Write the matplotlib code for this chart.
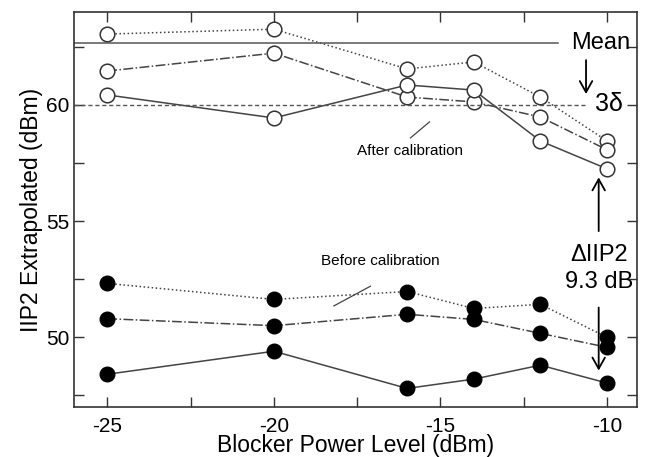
import matplotlib
matplotlib.use("Agg")
import matplotlib.pyplot as plt

plt.rcParams['font.family'] = ['Liberation Sans', 'DejaVu Sans']
plt.rcParams['axes.unicode_minus'] = False

# blocker power levels (dBm)
power = [-25, -20, -16, -14, -12, -10]

# after calibration (open circles)
after_dotted = [63.05, 63.26, 61.55, 61.85, 60.34, 58.45]
after_dashdot = [61.46, 62.23, 60.34, 60.13, 59.48, 58.07]
after_solid = [60.43, 59.44, 60.86, 60.64, 58.45, 57.25]

# before calibration (filled circles)
before_dotted = [52.32, 51.63, 51.97, 51.24, 51.42, 50.0]
before_dashdot = [50.8, 50.5, 50.99, 50.77, 50.17, 49.57]
before_solid = [48.41, 49.4, 47.8, 48.2, 48.8, 48.03]

mean_level = 62.66
sigma_level = 60.0

col = '#444444'
fig = plt.figure(figsize=(6.47, 4.57), dpi=100)
ax = fig.add_axes([74 / 647, 50 / 457, 563 / 647, 395 / 457])

styles = [(after_dotted, ':'), (after_dashdot, '-.'), (after_solid, '-')]
for ys, ls in styles:
    ax.plot(power, ys, linestyle=ls, color=col, lw=1.1, marker='o', ms=10.5,
            mfc='white', mec='#333333', mew=1.1)

styles = [(before_dotted, ':'), (before_dashdot, '-.'), (before_solid, '-')]
for ys, ls in styles:
    ax.plot(power, ys, linestyle=ls, color=col, lw=1.1, marker='o', ms=10.5,
            mfc='black', mec='black')

# mean and 3 sigma reference lines
ax.plot([-26, -11.47], [mean_level, mean_level], color='#555555', lw=1.1)
ax.plot([-26, -10.66], [sigma_level, sigma_level], color='#555555', lw=1, ls=(0, (3, 2)))

arrow = dict(arrowstyle='->,head_width=0.45,head_length=0.8', color='black', lw=1.3)

ax.text(-11.08, mean_level, 'Mean', fontsize=17, va='center', ha='left')
ax.text(-10.35, 60.05, '3\u03b4', fontsize=18, va='center', ha='left')
ax.annotate('', xy=(-10.63, 60.35), xytext=(-10.63, 62.05), arrowprops=arrow)

ax.text(-15.9, 58.0, 'After calibration', fontsize=11, ha='center', va='center')
ax.plot([-15.9, -15.33], [58.58, 59.27], color=col, lw=0.9)

ax.text(-16.8, 53.3, 'Before calibration', fontsize=11, ha='center', va='center')
ax.plot([-18.2, -17.1], [51.35, 52.2], color=col, lw=0.9)

ax.text(-10.25, 52.95, '\u0394IIP2\n9.3 dB', fontsize=17, ha='center', va='center', linespacing=1.3)
ax.annotate('', xy=(-10.25, 57.0), xytext=(-10.25, 54.45), arrowprops=arrow)
ax.annotate('', xy=(-10.25, 48.45), xytext=(-10.25, 51.4), arrowprops=arrow)

ax.set_xlim(-26, -9.1)
ax.set_ylim(47, 64)
ax.set_xticks([-25, -20, -15, -10])
ax.set_xticks([-22.5, -17.5, -12.5], minor=True)
ax.set_yticks([50, 55, 60])
ax.set_yticks([47.5, 52.5, 57.5, 62.5], minor=True)
ax.tick_params(which='both', direction='in', top=True, right=True, labelsize=15, width=1, color='#333333')
ax.tick_params(which='both', length=7)
ax.tick_params(axis='x', pad=7)
for s in ax.spines.values():
    s.set_linewidth(1.2)
    s.set_color('#333333')

ax.set_xlabel('Blocker Power Level (dBm)', fontsize=16.5, labelpad=-1)
ax.set_ylabel('IIP2 Extrapolated (dBm)', fontsize=16.5, labelpad=2)

fig.savefig('out.png', dpi=100)
